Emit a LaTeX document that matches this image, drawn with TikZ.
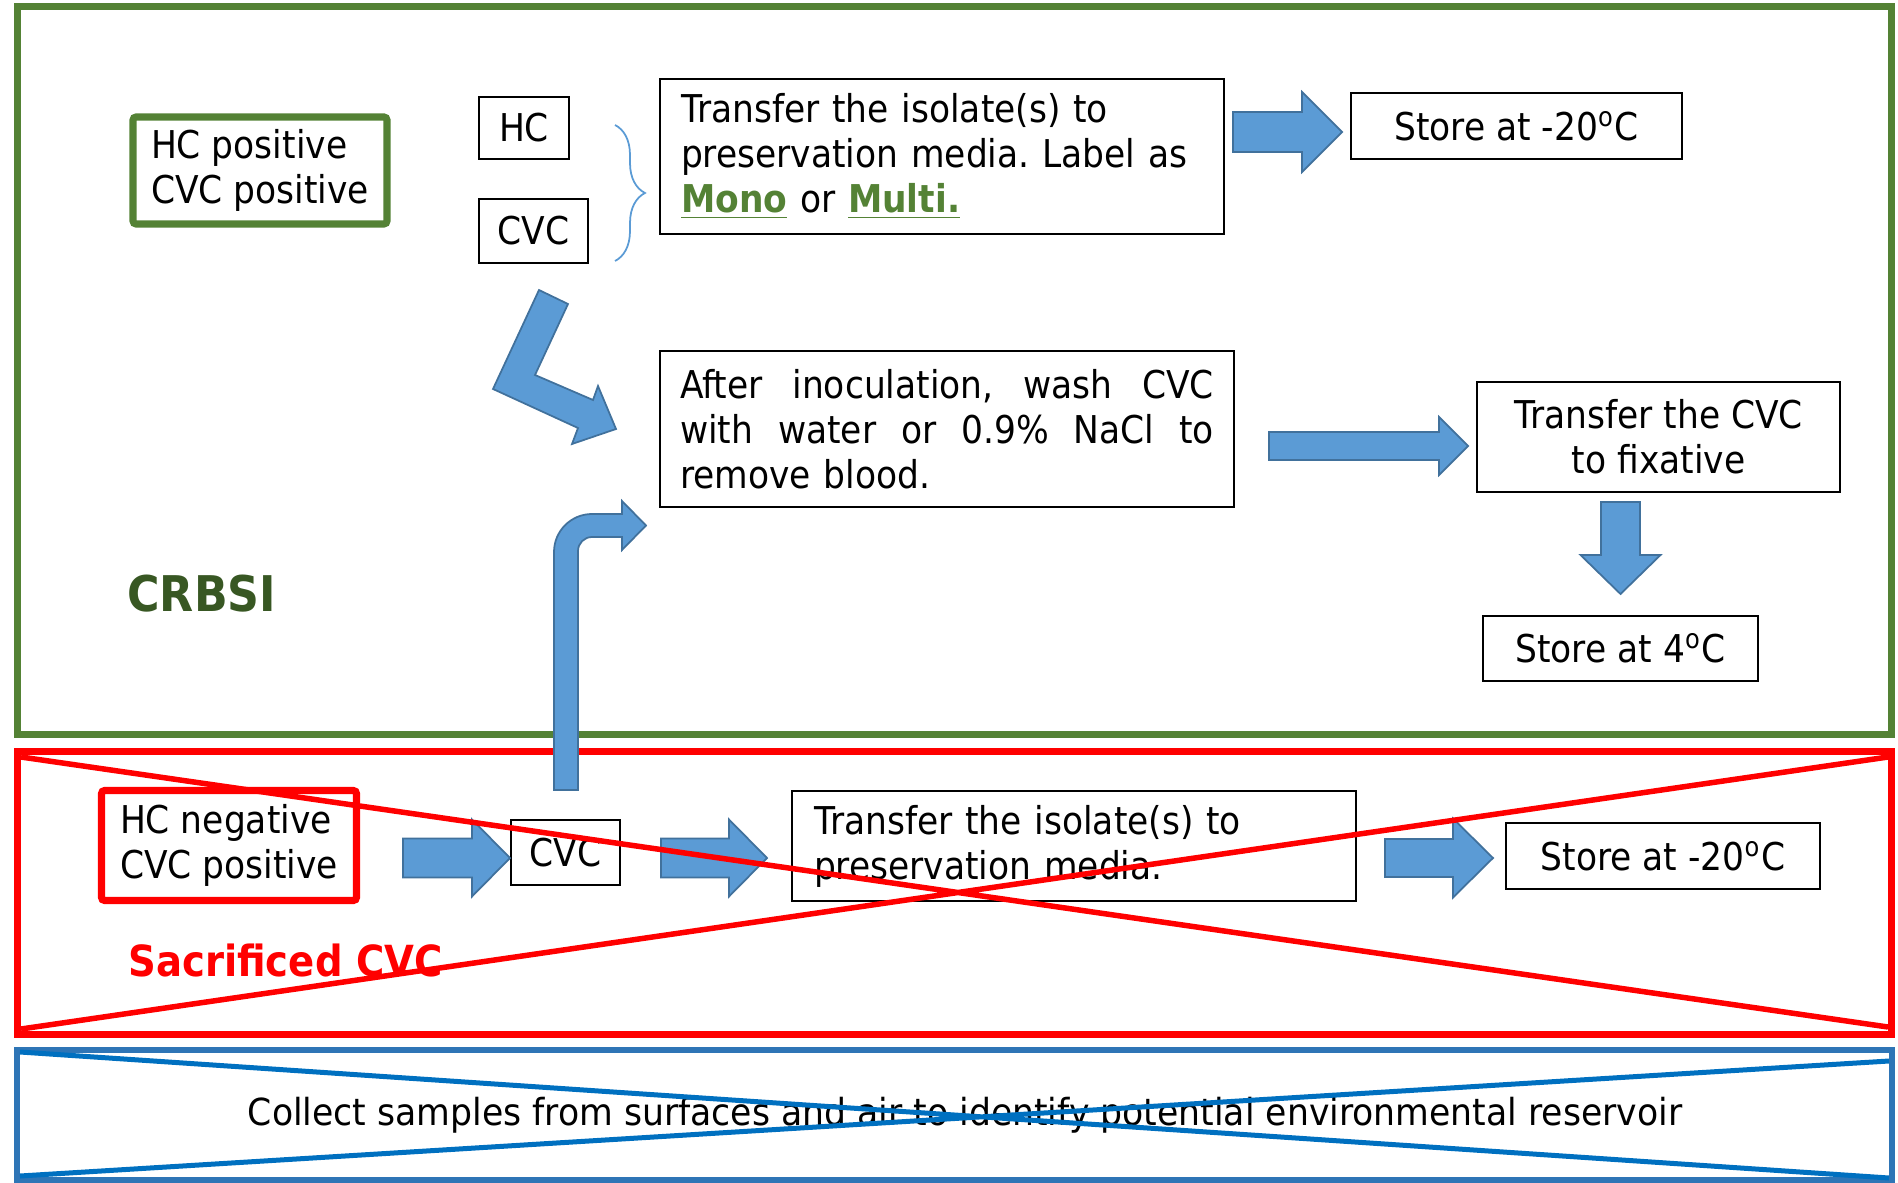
\documentclass[tikz,border=0pt]{standalone}
\usepackage{fontspec}
\setmainfont{DejaVu Sans}[FakeStretch=0.9]
\newfontfamily\narrowfont{DejaVu Sans}[FakeStretch=0.93]
\usetikzlibrary{calc,decorations.pathreplacing}
\definecolor{frmgreen}{HTML}{548235}
\definecolor{lblgreen}{HTML}{385723}
\definecolor{arrfill}{HTML}{5B9BD5}
\definecolor{arrline}{HTML}{41719C}
\definecolor{frmblue}{HTML}{2E75B6}
\definecolor{crossblue}{HTML}{0070C0}
\frenchspacing
\newcommand{\mono}[1]{\textcolor{frmgreen}{\underline{\textbf{#1}}}}
\newcommand{\fatarrow}[5]{%
  \coordinate (hb) at ($(#2)!#5!(#1)$);
  \filldraw[fatarr] ($(#1)!#3!90:(#2)$) -- ($(hb)!#3!-90:(#1)$) -- ($(hb)!#4!-90:(#1)$)
    -- (#2) -- ($(hb)!#4!90:(#1)$) -- ($(hb)!#3!90:(#1)$) -- ($(#1)!#3!-90:(#2)$) -- cycle;}

\begin{document}
\begin{tikzpicture}[x=0.1mm,y=-0.1mm,font=\fontsize{10.9}{12.8}\selectfont,
  box/.style={draw=black,line width=0.6pt,inner sep=0pt,align=center},
  txtbox/.style={box,align=left},
  greenbox/.style={draw=frmgreen,line width=2pt,rounded corners=0.3mm,inner sep=0pt,
    minimum width=25.4mm,minimum height=10.7mm,align=left},
  redbox/.style={greenbox,draw=red},
  fatarr/.style={fill=arrfill,draw=arrline,line width=0.5pt},
  brace/.style={decorate,decoration={brace,amplitude=3mm},draw=arrfill,line width=0.5pt},
  frame/.style={line width=0.7mm}]
\useasboundingbox (0,0) rectangle (1898,1183);

\draw[frame,frmgreen] (17,7) rectangle (1891,734);
\draw[frame,red] (17,751) rectangle (1891,1034);
\draw[frame,frmblue,line width=0.6mm] (17,1050) rectangle (1892,1180);

\node[greenbox] (hcpos) at (260,170.5) {HC positive\\CVC positive};
\node[box,minimum width=9mm,minimum height=6.2mm] (hc) at (524,128) {HC};
\node[box,minimum width=10.9mm,minimum height=6.4mm] (cvc) at (533.5,231) {CVC};
\node[txtbox,minimum width=56.4mm,minimum height=15.5mm,text width=52.2mm,inner xsep=2.1mm] (isoA) at (942,156.5)
  {Transfer the isolate(s) to\\preservation media. Label as\\\mono{Mono} or \mono{Multi.}};
\node[box,minimum width=33.1mm,minimum height=6.6mm] (storeA) at (1516.5,126) {Store at -20\textsuperscript{o}C};
\node[txtbox,minimum width=57.4mm,minimum height=15.6mm,text width=53.4mm,inner xsep=2mm] (wash) at (947,429)
  {\makebox[53.4mm][l]{After\hfill inoculation,\hfill wash\hfill CVC}\\
   \makebox[53.4mm][l]{with\hfill water\hfill or\hfill 0.9\%\hfill NaCl\hfill to}\\remove blood.};
\node[box,minimum width=36.3mm,minimum height=11mm] (fixcvc) at (1658.5,437) {Transfer the CVC\\to fixative};
\node[box,minimum width=27.5mm,minimum height=6.5mm] (storeB) at (1620.5,648.5) {Store at 4\textsuperscript{o}C};
\node[anchor=base west,text=lblgreen,font=\bfseries\fontsize{14}{16}\selectfont] (crbsi) at (115,611) {CRBSI};

\node[redbox,minimum width=25.5mm,minimum height=11mm] (hcneg) at (229,845.5) {HC negative\\CVC positive};
\node[box,minimum width=10.9mm,minimum height=6.5mm] (cvcB) at (565.5,852.5) {CVC};
\node[txtbox,minimum width=56.4mm,minimum height=11mm,text width=52mm,inner xsep=2.2mm] (isoB) at (1074,846)
  {Transfer the isolate(s) to\\preservation media.};
\node[box,minimum width=31.4mm,minimum height=6.6mm] (storeC) at (1663,856) {Store at -20\textsuperscript{o}C};
\node[anchor=base west,text=red,font=\bfseries\fontsize{12.2}{14}\selectfont] (sacr) at (116,976) {Sacrificed CVC};

\node[font=\narrowfont\fontsize{10.6}{12.8}\selectfont] (collect) at (965,1115)
  {Collect samples from surfaces and air to identify potential environmental reservoir};

\draw[brace] (615,125) -- (615,261);

\coordinate (a1s) at (1233,132);
\coordinate (a1e) at (1342,132);
\coordinate (a2s) at (1269,446);
\coordinate (a2e) at (1468,446);
\coordinate (a3s) at (1620.5,502);
\coordinate (a3e) at (1620.5,594);
\coordinate (a4s) at (403,858);
\coordinate (a4e) at (510,858);
\coordinate (a5s) at (661,858);
\coordinate (a5e) at (767,858);
\coordinate (a6s) at (1385,858);
\coordinate (a6e) at (1493,858);
\fatarrow{a1s}{a1e}{2mm}{4mm}{4mm}
\fatarrow{a2s}{a2e}{1.4mm}{2.9mm}{2.9mm}
\fatarrow{a3s}{a3e}{1.95mm}{4mm}{3.9mm}
\fatarrow{a4s}{a4e}{1.95mm}{3.85mm}{3.8mm}
\fatarrow{a5s}{a5e}{1.95mm}{3.85mm}{3.8mm}
\fatarrow{a6s}{a6e}{1.9mm}{3.95mm}{4mm}

\filldraw[fatarr] (539,290) -- (568,304) -- (535,375) -- (593,400) -- (598,386) -- (616,429)
  -- (572,444) -- (578,428) -- (493,389) -- cycle;
\filldraw[fatarr] (554,790) -- (554,552) arc[start angle=180,end angle=90,radius=3.8mm] -- (622,514)
  -- (622,501) -- (646,525.5) -- (622,550) -- (622,537) -- (592,537)
  arc[start angle=90,end angle=180,radius=1.4mm] -- (578,790) -- cycle;

\draw[red,line width=0.55mm] (21,757) -- (1888,1027) (21,1029) -- (1888,757);
\draw[crossblue,line width=0.5mm] (20,1052) -- (1889,1178) (20,1176) -- (1889,1061);
\end{tikzpicture}
\end{document}
